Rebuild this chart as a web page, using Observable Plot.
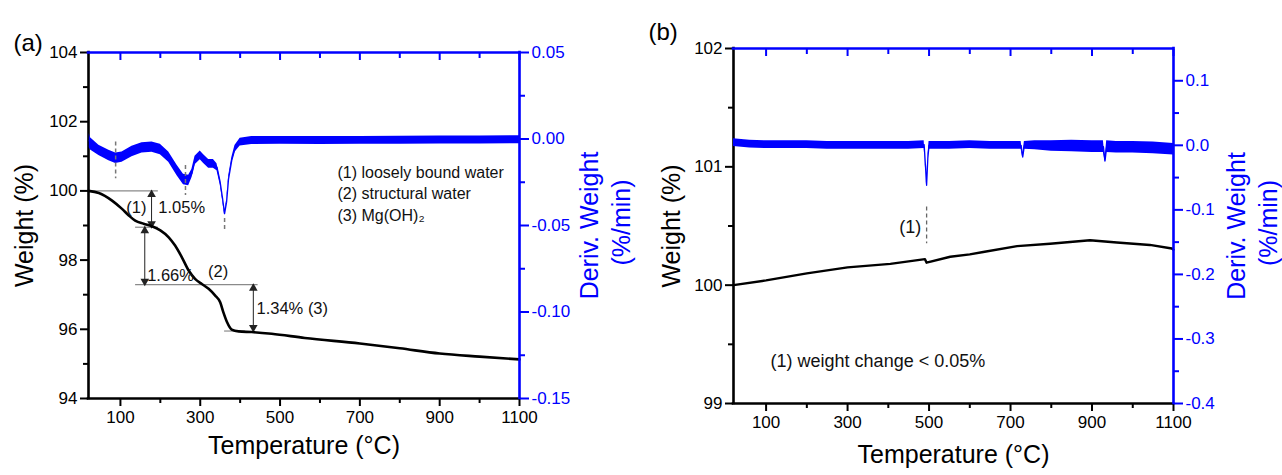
<!DOCTYPE html>
<html>
<head>
<meta charset="utf-8">
<script src="https://cdn.jsdelivr.net/npm/d3@7"></script>
<script src="https://cdn.jsdelivr.net/npm/@observablehq/plot@0.6"></script>
<style>
html, body { margin: 0; padding: 0; background: #fff; }
#wrap { position: relative; width: 1282px; height: 475px; overflow: hidden; }
.panel { position: absolute; top: 0; height: 475px; }
.panel svg { position: absolute; left: 0; top: 0; }
</style>
</head>
<body>
<div id="wrap">
  <div class="panel" id="pa" style="left:0;width:640px"></div>
  <div class="panel" id="pb" style="left:640px;width:642px"></div>
</div>
<script>
// ---------------- DATA ----------------
// Panel (a): TGA weight (%) vs temperature (°C)
const tempA   = [20, 46, 79, 104, 121, 137, 158, 179, 200, 221, 237, 254, 271, 287, 304, 321, 337, 350, 358, 367, 379, 396, 429, 479, 562, 700, 800, 900, 1000, 1100];
const weightA = [100.0, 99.94, 99.72, 99.48, 99.29, 99.14, 99.05, 98.98, 98.86, 98.66, 98.42, 98.08, 97.70, 97.46, 97.31, 97.17, 96.98, 96.78, 96.49, 96.21, 95.99, 95.94, 95.92, 95.87, 95.75, 95.59, 95.45, 95.30, 95.21, 95.13];
// Panel (a): DTG deriv. weight (%/min) centre and half-width of the noise band
const tempDtgA   = [22, 25, 46, 71, 88, 104, 129, 154, 179, 200, 221, 242, 258, 271, 279, 287, 300, 308, 321, 333, 342, 350, 356, 361, 366, 371, 379, 387, 400, 429, 500, 600, 700, 800, 900, 1000, 1100];
const dtgA       = [-0.001, -0.0028, -0.0066, -0.0095, -0.0111, -0.0105, -0.0072, -0.0051, -0.0047, -0.0061, -0.0105, -0.0182, -0.0234, -0.0240, -0.0201, -0.0124, -0.0095, -0.0115, -0.0144, -0.0144, -0.0163, -0.0250, -0.0344, -0.0431, -0.0365, -0.0230, -0.0124, -0.0057, -0.0018, -0.0009, -0.0008, -0.0009, -0.0008, -0.0007, -0.0006, -0.0006, -0.0004];
const dtgSpreadA = [0.004, 0.0035, 0.003, 0.003, 0.003, 0.003, 0.003, 0.003, 0.003, 0.003, 0.003, 0.003, 0.003, 0.003, 0.0025, 0.0025, 0.0025, 0.0025, 0.0025, 0.0025, 0.002, 0.0015, 0.0012, 0.001, 0.001, 0.0012, 0.0015, 0.002, 0.0022, 0.0023, 0.0023, 0.0023, 0.0023, 0.0023, 0.0023, 0.0023, 0.0023];

// Panel (b): TGA weight (%)
const tempB   = [20, 100, 200, 300, 405, 490, 494, 552, 600, 633, 716, 797, 895, 961, 1042, 1096, 1100];
const weightB = [100.0, 100.04, 100.10, 100.15, 100.18, 100.22, 100.19, 100.24, 100.26, 100.28, 100.33, 100.35, 100.38, 100.36, 100.34, 100.31, 100.30];
// Panel (b): DTG
const tempDtgB   = [20, 60, 100, 150, 200, 250, 300, 350, 400, 450, 488, 491, 494, 497, 500, 550, 600, 650, 700, 726, 730, 734, 760, 800, 850, 900, 928, 932, 936, 960, 1000, 1050, 1100];
const dtgB       = [0.004, 0.002, 0.001, 0.001, 0.001, 0.0, 0.0, 0.0, 0.0, 0.0, 0.001, -0.03, -0.062, -0.02, 0.0, 0.0, 0.001, 0.0, 0.0, 0.0, -0.018, 0.0, 0.0, -0.001, -0.001, -0.002, -0.002, -0.024, -0.002, -0.003, -0.003, -0.004, -0.006];
const dtgSpreadB = [0.006, 0.006, 0.006, 0.006, 0.006, 0.006, 0.006, 0.006, 0.006, 0.006, 0.006, 0.002, 0.002, 0.002, 0.006, 0.006, 0.006, 0.006, 0.006, 0.006, 0.003, 0.006, 0.007, 0.008, 0.009, 0.009, 0.009, 0.003, 0.009, 0.009, 0.009, 0.009, 0.009];

// Axes: domains and ticks
const xDomain     = [20, 1100];
const xTicks      = [100, 300, 500, 700, 900, 1100];
const xMinorTicks = [200, 400, 600, 800, 1000];
const yDomainA = [94, 104];
const yTicksA  = [94, 96, 98, 100, 102, 104];
const yMinorA  = [95, 97, 99, 101, 103];
const dDomainA = [-0.15, 0.05];
const dTicksA  = [-0.15, -0.10, -0.05, 0, 0.05];
const dMinorA  = [-0.125, -0.075, -0.025, 0.025];
const yDomainB = [99, 102];
const yTicksB  = [99, 100, 101, 102];
const yMinorB  = [99.5, 100.5, 101.5];
const dDomainB = [-0.4, 0.15];
const dTicksB  = [-0.4, -0.3, -0.2, -0.1, 0, 0.1];
const dMinorB  = [-0.35, -0.25, -0.15, -0.05, 0.05];

// Annotations, panel (a): weight-loss steps
const stepLevelsA = [100, 98.95, 97.29, 95.95];
const stepLinesA  = [[20, 195], [138, 195], [138, 445], [361, 413]];   // temperature span of each guide line
const stepArrowsA = [{t: 178, from: 100, to: 98.95}, {t: 161, from: 98.95, to: 97.29}, {t: 433, from: 97.29, to: 95.95}];
const labelsStartA = [{t: 195, w: 99.51, s: "1.05%"}, {t: 167, w: 97.55, s: "1.66%"}, {t: 441, w: 96.6, s: "1.34% (3)"}];
const labelsMidA   = [{t: 140, w: 99.51, s: "(1)"}, {t: 345, w: 97.65, s: "(2)"}];
const legendA      = [{t: 644, w: 100.53, s: "(1) loosely bound water"}, {t: 644, w: 99.92, s: "(2) structural water"}, {t: 644, w: 99.27, s: "(3) Mg(OH)₂"}];
const dashA        = [{t: 88, d1: -0.0018, d2: -0.023}, {t: 263, d1: -0.0153, d2: -0.0327}, {t: 361, d1: -0.046, d2: -0.054}];
// Annotations, panel (b)
const dashB   = [{t: 494, w1: 100.66, w2: 100.35}];
const labelsB = [{t: 454, w: 100.49, s: "(1)"}];
const noteB   = [{t: 111, w: 99.36, s: "(1) weight change < 0.05%"}];

// ---------------- DRAWING ----------------
const FONT = '"Liberation Sans", Arial, Helvetica, sans-serif';
const BLUE = "#0000ff";
const GUIDE = "#8a8a8a";

const rec = (ts, vs, ns) => ts.map((t, i) => ({t, v: vs[i], n: ns ? ns[i] : 0}));
const one = (s) => [s];
const fmt2 = (v) => v.toFixed(2);
const fmt1 = (v) => v.toFixed(1);
const blank = () => "";

function leftBottomAxes(yTicks, yMinor) {
  return [
    Plot.axisY(yTicks, {anchor: "left", tickSize: 8, tickPadding: 3, fontSize: 17, strokeWidth: 2, label: null, tickFormat: (d) => String(d)}),
    Plot.axisY(yMinor, {anchor: "left", tickSize: 5, strokeWidth: 2, label: null, tickFormat: blank}),
    Plot.axisX(xTicks, {anchor: "bottom", tickSize: 8, tickPadding: 4, fontSize: 17, strokeWidth: 2, label: null, tickFormat: (d) => String(d)}),
    Plot.axisX(xMinorTicks, {anchor: "bottom", tickSize: 5, strokeWidth: 2, label: null, tickFormat: blank})
  ];
}
function rightTopAxes(dTicks, dMinor, f) {
  return [
    Plot.axisY(dTicks, {anchor: "right", tickSize: 9, tickPadding: 3, fontSize: 17, strokeWidth: 2, label: null, tickFormat: f}),
    Plot.axisY(dMinor, {anchor: "right", tickSize: 5, strokeWidth: 2, label: null, tickFormat: blank}),
    Plot.axisX(xTicks, {anchor: "top", tickSize: -7, strokeWidth: 2, label: null, tickFormat: blank}),
    Plot.axisX(xMinorTicks, {anchor: "top", tickSize: -5, strokeWidth: 2, label: null, tickFormat: blank})
  ];
}

function makePanel(el, cfg) {
  const common = {
    width: cfg.width, height: 475,
    marginLeft: cfg.ml, marginRight: cfg.mr, marginTop: cfg.mt, marginBottom: cfg.mb
  };
  const main = Plot.plot({
    ...common,
    style: {fontFamily: FONT, color: "black", background: "transparent", overflow: "visible"},
    x: {domain: xDomain, axis: null, label: null},
    y: {domain: cfg.yDomain, axis: null, label: null},
    marks: [
      ...cfg.mainMarks,
      ...leftBottomAxes(cfg.yTicks, cfg.yMinor),
      Plot.ruleX([xDomain[0]], {stroke: "black", strokeWidth: 2.6, strokeLinecap: "square"}),
      Plot.ruleY([cfg.yDomain[0]], {stroke: "black", strokeWidth: 2.6, strokeLinecap: "square"}),
      Plot.text(one(cfg.tag), {text: (d) => d, frameAnchor: "top-left", dx: cfg.tagDx, dy: cfg.tagDy, textAnchor: "start", fontSize: 24}),
      Plot.text(one("Weight (%)"), {text: (d) => d, frameAnchor: "left", dx: cfg.wDx, rotate: -90, textAnchor: "middle", fontSize: 25}),
      Plot.text(one("Temperature (°C)"), {text: (d) => d, frameAnchor: "bottom", dy: cfg.tDy, textAnchor: "middle", fontSize: 25})
    ]
  });
  const deriv = Plot.plot({
    ...common,
    style: {fontFamily: FONT, color: BLUE, background: "transparent", overflow: "visible"},
    x: {domain: xDomain, axis: null, label: null},
    y: {domain: cfg.dDomain, axis: null, label: null},
    marks: [
      Plot.areaY(cfg.dtg, {x: "t", y1: (d) => d.v - d.n, y2: (d) => d.v + d.n, fill: BLUE}),
      Plot.line(cfg.dtg, {x: "t", y: "v", stroke: BLUE, strokeWidth: 1.3}),
      ...cfg.derivMarks,
      ...rightTopAxes(cfg.dTicks, cfg.dMinor, cfg.dFormat),
      Plot.ruleX([xDomain[1]], {stroke: BLUE, strokeWidth: 2.6, strokeLinecap: "square"}),
      Plot.ruleY([cfg.dDomain[1]], {stroke: BLUE, strokeWidth: 2.6, strokeLinecap: "square"}),
      Plot.text(one("Deriv. Weight"), {text: (d) => d, frameAnchor: "right", dx: cfg.d1Dx, rotate: -90, textAnchor: "middle", fill: BLUE, fontSize: 25}),
      Plot.text(one("(%/min)"), {text: (d) => d, frameAnchor: "right", dx: cfg.d2Dx, dy: -3, rotate: -90, textAnchor: "middle", fill: BLUE, fontSize: 25})
    ]
  });
  el.appendChild(main);
  el.appendChild(deriv);
}

// Panel (a): double-headed arrows = vertical rule + filled triangle heads
const arrowEndsA = stepArrowsA.flatMap((a) => [
  {t: a.t, w: a.from, up: a.from > a.to},
  {t: a.t, w: a.to, up: a.to > a.from}
]);
const guidesA = stepLevelsA.map((w, i) => ({w, t1: stepLinesA[i][0], t2: stepLinesA[i][1]}));

makePanel(document.getElementById("pa"), {
  width: 640, ml: 88, mr: 121, mt: 52, mb: 77,
  yDomain: yDomainA, yTicks: yTicksA, yMinor: yMinorA,
  dDomain: dDomainA, dTicks: dTicksA, dMinor: dMinorA, dFormat: fmt2,
  dtg: rec(tempDtgA, dtgA, dtgSpreadA),
  tag: "(a)", tagDx: -75, tagDy: -19, wDx: -64, tDy: 55, d1Dx: 70, d2Dx: 102,
  mainMarks: [
    Plot.ruleY(guidesA, {y: "w", x1: "t1", x2: "t2", stroke: GUIDE, strokeWidth: 1.2}),
    Plot.ruleX(stepArrowsA, {x: "t", y1: "from", y2: "to", stroke: "#222", strokeWidth: 1}),
    Plot.dot(arrowEndsA.filter((d) => d.up), {x: "t", y: "w", symbol: "triangle", r: 3.2, fill: "#222", stroke: "none", dy: 3.5}),
    Plot.dot(arrowEndsA.filter((d) => !d.up), {x: "t", y: "w", symbol: "triangle", r: 3.2, fill: "#222", stroke: "none", rotate: 180, dy: -3.5}),
    Plot.line(rec(tempA, weightA), {x: "t", y: "v", stroke: "black", strokeWidth: 2.6, curve: "monotone-x"}),
    Plot.text(labelsStartA, {x: "t", y: "w", text: "s", textAnchor: "start", fontSize: 16.5, fill: "#111"}),
    Plot.text(labelsMidA, {x: "t", y: "w", text: "s", textAnchor: "middle", fontSize: 16.5, fill: "#111"}),
    Plot.text(legendA, {x: "t", y: "w", text: "s", textAnchor: "start", fontSize: 16, fill: "#111"})
  ],
  derivMarks: [
    Plot.ruleX(dashA, {x: "t", y1: "d1", y2: "d2", stroke: "#777", strokeWidth: 1.5, strokeDasharray: "4,3"})
  ]
});

// Panel (b)
makePanel(document.getElementById("pb"), {
  width: 642, ml: 93, mr: 109, mt: 48, mb: 72,
  yDomain: yDomainB, yTicks: yTicksB, yMinor: yMinorB,
  dDomain: dDomainB, dTicks: dTicksB, dMinor: dMinorB, dFormat: fmt1,
  dtg: rec(tempDtgB, dtgB, dtgSpreadB),
  tag: "(b)", tagDx: -85, tagDy: -26, wDx: -62, tDy: 59, d1Dx: 63, d2Dx: 95,
  mainMarks: [
    Plot.ruleX(dashB, {x: "t", y1: "w1", y2: "w2", stroke: "#666", strokeWidth: 1.3, strokeDasharray: "4,3"}),
    Plot.line(rec(tempB, weightB), {x: "t", y: "v", stroke: "black", strokeWidth: 2.4}),
    Plot.text(labelsB, {x: "t", y: "w", text: "s", textAnchor: "middle", fontSize: 18, fill: "#111"}),
    Plot.text(noteB, {x: "t", y: "w", text: "s", textAnchor: "start", fontSize: 18, fill: "#111"})
  ],
  derivMarks: []
});
</script>
</body>
</html>
